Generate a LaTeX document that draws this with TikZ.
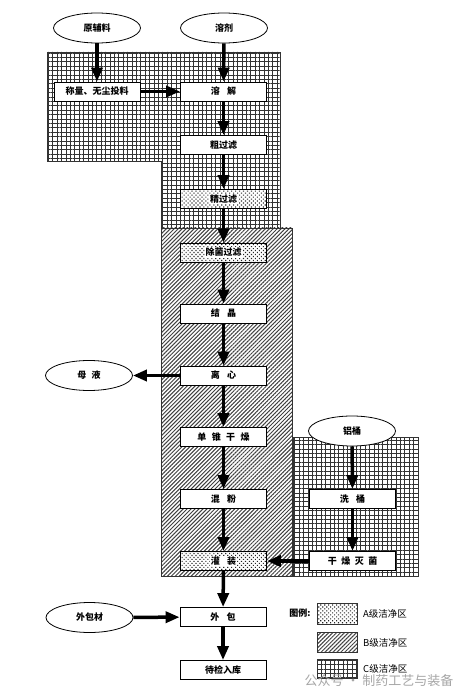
\documentclass[tikz,border=0pt]{standalone}
\usepackage{fontspec}
\setmainfont{Noto Sans CJK SC}
\usetikzlibrary{arrows.meta,patterns.meta,shapes.geometric}
\begin{document}
\begin{tikzpicture}[x=1pt,y=-1pt,
  txt/.style={font=\bfseries\fontsize{9}{10}\selectfont},
  box/.style={txt,draw=black,line width=0.8pt,fill=white,minimum width=86pt,minimum height=19pt,inner sep=0pt},
  abox/.style={txt,draw=black,line width=0.8pt,preaction={fill=white},pattern={Dots[distance=2.8pt,radius=0.8pt,angle=45]},pattern color=black!85,minimum width=86pt,minimum height=19pt,inner sep=0pt},
  alabel/.style={txt,fill=white,inner sep=1pt},
  oval/.style={txt,ellipse,draw=black,line width=0.8pt,fill=white,minimum width=87pt,minimum height=30pt,inner sep=0pt},
  czone/.style={draw=black!80,line width=0.8pt,preaction={fill=white},pattern={Hatch[angle=0,distance=4.4pt,line width=1pt]},pattern color=black!80},
  bzone/.style={draw=black!80,line width=0.8pt,preaction={fill=white},pattern={Lines[angle=45,distance=2.8pt,line width=1pt]},pattern color=black!75},
  azone/.style={draw=black!80,line width=0.8pt,preaction={fill=white},pattern={Dots[distance=2.8pt,radius=0.8pt,angle=45]},pattern color=black!85},
  arr/.style={line width=3.5pt,-{Triangle[length=14pt,width=11pt]}},
  leg/.style={font=\fontsize{9.5}{10}\selectfont,anchor=west,inner sep=0pt}
]
\useasboundingbox (0,0) rectangle (472,700);
\fill[white] (0,0) rectangle (472,700);
% zones
\path[czone] (47,52) -- (280,52) -- (280,228) -- (161,228) -- (161,161) -- (47,161) -- cycle;
\path[bzone] (161,228) rectangle (292,576);
\path[czone] (293,437) rectangle (418,576);
% nodes
\node[oval] (ydl) at (97,28) {原辅料};
\node[oval] (rj) at (224,28) {溶剂};
\node[box] (cl) at (97,91.5) {称量、无尘投料};
\node[box] (rjie) at (223.5,91.5) {溶\hspace{0.8em}解};
\node[box] (cgl) at (223.5,145) {粗过滤};
\node[abox,label={[alabel]center:精过滤}] (jgl) at (223.5,199) {};
\node[abox,label={[alabel]center:除菌过滤}] (cjgl) at (223.5,252.5) {};
\node[box] (jj) at (223.5,313.5) {结\hspace{0.8em}晶};
\node[box] (lx) at (223.5,375.5) {离\hspace{0.8em}心};
\node[oval] (my) at (89,375.5) {母\hspace{0.6em}液};
\node[box] (dz) at (223.5,437) {单\hspace{0.6em}锥\hspace{0.6em}干\hspace{0.6em}燥};
\node[box] (hf) at (223.5,499) {混\hspace{0.8em}粉};
\node[abox,label={[alabel]center:灌\hspace{0.8em}装}] (gz) at (223.5,561) {};
\node[oval] (lt) at (352,431) {铝桶};
\node[box] (xt) at (352.5,499) {洗\hspace{0.8em}桶};
\node[box] (gzmj) at (352.5,561) {干\hspace{0.5em}燥\hspace{0.5em}灭\hspace{0.5em}菌};
\node[oval] (wbc) at (89.5,617.5) {外包材};
\node[box] (wb) at (223,617) {外\hspace{0.8em}包};
\node[box] (djrk) at (223,670) {待检入库};
% arrows
\draw[arr] (ydl) -- (cl);
\draw[arr] (rj) -- (rjie);
\draw[arr] (cl) -- (rjie);
\draw[arr] (rjie) -- (cgl);
\draw[arr] (cgl) -- (jgl);
\draw[arr] (jgl) -- (cjgl);
\draw[arr] (cjgl) -- (jj);
\draw[arr] (jj) -- (lx);
\draw[arr] (lx) -- (my);
\draw[arr] (lx) -- (dz);
\draw[arr] (dz) -- (hf);
\draw[arr] (hf) -- (gz);
\draw[arr] (gz) -- (wb);
\draw[arr] (wb) -- (djrk);
\draw[arr] (lt) -- (xt);
\draw[arr] (xt) -- (gzmj);
\draw[arr] (gzmj) -- (gz);
\draw[arr] (wbc) -- (wb);
% legend
\node[txt,inner sep=0pt] (tl) at (300,613) {图例:};
\node[azone,minimum width=40pt,minimum height=21pt,inner sep=0pt] (la) at (337,614) {};
\node[bzone,minimum width=40pt,minimum height=20pt,inner sep=0pt] (lb) at (337,642.5) {};
\node[czone,minimum width=40pt,minimum height=19pt,inner sep=0pt] (lc) at (337,669) {};
\node[leg] (ta) at (363,614) {A级洁净区};
\node[leg] (tb) at (363,642.5) {B级洁净区};
\node[leg] (tc) at (363,669) {C级洁净区};
% watermark
\node[text=black!35,font=\fontsize{13}{14}\selectfont,inner sep=0pt] (wm) at (379,681) {公众号 · 制药工艺与装备};
\end{tikzpicture}
\end{document}
